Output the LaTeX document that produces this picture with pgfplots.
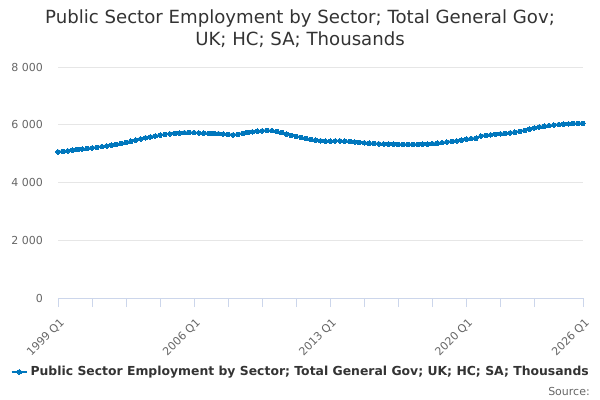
\documentclass[border=0pt]{standalone}
\usepackage{fontspec}
\setmainfont{DejaVu Sans}
\usepackage{pgfplots}
\pgfplotsset{compat=1.18}
\definecolor{linec}{RGB}{0,119,189}
\definecolor{axisc}{RGB}{204,214,235}
\definecolor{gridc}{RGB}{230,230,230}
\definecolor{labc}{RGB}{102,102,102}
\definecolor{titc}{RGB}{51,51,51}
\begin{document}
\begin{tikzpicture}
\useasboundingbox (0,0) rectangle (450pt,300pt);
\begin{axis}[
  at={(43.5pt,76.5pt)}, anchor=south west,
  scale only axis, width=393.75pt, height=173.25pt,
  xmin=0, xmax=108, ymin=0, ymax=8000,
  axis x line*=bottom, axis y line*=left,
  x axis line style={draw=axisc,-},
  y axis line style={draw=none},
  xtick={0,28,56,84,108},
  xticklabels={1999 Q1,2006 Q1,2013 Q1,2020 Q1,2026 Q1},
  minor xtick={7,14,21,35,42,49,63,70,77,91,98},
  tick align=outside,
  xtick style={draw=axisc, thin},
  xminorgrids=false,
  major tick length=6.75pt,
  minor tick length=6.75pt,
  ytick={0,2000,4000,6000,8000},
  ytick style={draw=none},
  ymajorgrids, grid style={gridc, thin},
  /pgf/number format/assume math mode=true,
  /pgf/number format/1000 sep={\ },
  scaled y ticks=false,
  yticklabel style={font=\fontsize{8.25}{10}\selectfont, text=labc, anchor=east, xshift=-1pt},
  xticklabel style={font=\fontsize{8.25}{10}\selectfont, text=labc, rotate=45, anchor=north east, xshift=-1.5pt, yshift=-2.5pt},
  clip=false,
  legend style={at={(axis description cs:0.463,-0.32)}, anchor=center, draw=none, fill=none,
    font=\bfseries\fontsize{9.3}{11}\selectfont, text=titc},
  legend image code/.code={\draw[mark repeat=2,mark phase=2] plot coordinates {(0cm,0cm)(0.2cm,0cm)(0.4cm,0cm)};},
]
\addplot[color=linec, line width=1.5pt, mark=*, mark size=1.7pt, mark options={fill=linec, draw=linec, line width=0pt}] table {
x y
0 5060
1 5075
2 5095
3 5120
4 5140
5 5160
6 5175
7 5195
8 5220
9 5240
10 5265
11 5290
12 5320
13 5355
14 5390
15 5430
16 5470
17 5510
18 5550
19 5580
20 5610
21 5640
22 5665
23 5685
24 5700
25 5715
26 5725
27 5730
28 5725
29 5715
30 5710
31 5700
32 5695
33 5690
34 5680
35 5665
36 5650
37 5665
38 5700
39 5735
40 5755
41 5775
42 5790
43 5800
44 5795
45 5770
46 5730
47 5680
48 5635
49 5595
50 5560
51 5525
52 5495
53 5465
54 5445
55 5430
56 5430
57 5440
58 5440
59 5430
60 5420
61 5405
62 5390
63 5375
64 5360
65 5350
66 5340
67 5335
68 5330
69 5325
70 5320
71 5318
72 5315
73 5318
74 5320
75 5325
76 5330
77 5345
78 5360
79 5380
80 5400
81 5420
82 5440
83 5470
84 5500
85 5520
86 5535
87 5610
88 5630
89 5650
90 5670
91 5685
92 5700
93 5720
94 5740
95 5770
96 5800
97 5845
98 5890
99 5925
100 5950
101 5970
102 5990
103 6005
104 6020
105 6030
106 6040
107 6045
108 6050
};
\addlegendentry{Public Sector Employment by Sector; Total General Gov; UK; HC; SA; Thousands}
\end{axis}
\node[text=titc, font=\fontsize{13.6}{16}\selectfont, anchor=base] at (225pt,282.4pt) {Public Sector Employment by Sector; Total General Gov;};
\node[text=titc, font=\fontsize{13.6}{16}\selectfont, anchor=base] at (225pt,265.5pt) {UK; HC; SA; Thousands};
\node[text=labc, font=\fontsize{8.25}{10}\selectfont, anchor=east, inner sep=0pt] at (442.5pt,6.75pt) {Source:};
\end{tikzpicture}
\end{document}
